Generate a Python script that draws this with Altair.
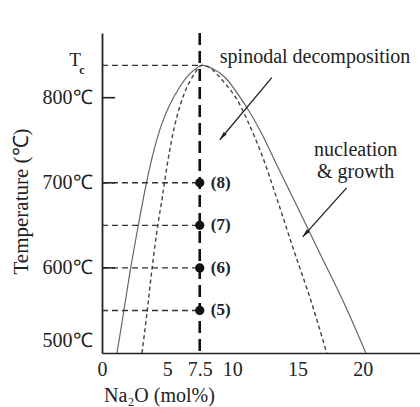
import altair as alt
import pandas as pd

# ---- data ----
binodal_x = [1.15, 1.65, 2.18, 2.80, 3.41, 3.95, 4.56, 5.21, 5.94, 6.67, 7.28, 7.65, 8.51, 9.43, 10.96, 12.18, 13.41, 14.79, 16.59, 18.47, 20.25]
binodal_T = [500, 547, 598, 651, 700, 736, 768, 792, 812, 827, 835, 838, 834, 824, 792, 760, 721, 678, 621, 562, 500]

spinodal_x = [3.07, 3.45, 3.83, 4.29, 4.60, 4.79, 5.17, 5.59, 6.02, 6.51, 7.13, 7.65, 8.28, 9.20, 10.27, 11.19, 12.26, 13.49, 14.71, 16.02, 17.24]
spinodal_T = [500, 547, 598, 651, 680, 700, 736, 768, 792, 812, 829, 838, 835, 821, 800, 772, 733, 678, 621, 562, 500]

composition = 7.5
Tc = 838
sample_T = [550, 600, 650, 700]
sample_labels = ["(5)", "(6)", "(7)", "(8)"]
guide_T = [Tc, 700, 650, 600, 550]
inner_tick_T = [600, 700, 800]

x_ticks = [0, 5, 7.5, 10, 15, 20]
y_ticks = [500, 600, 700, 800]

arrow_x1 = [13.03, 18.77]
arrow_T1 = [823.5, 694]
arrow_x2 = [9.04, 15.40]
arrow_T2 = [750.6, 636.5]
arrow_angle = [220, 222]

note_text = ["spinodal decomposition", "nucleation", "& growth"]
note_x = [9.04, 19.46, 19.46]
note_T = [848, 739, 713]

FONT = "Liberation Serif"
INK = "#222222"

xs = alt.Scale(domain=[0, 24.4], nice=False, zero=False)
ys = alt.Scale(domain=[500, 876], nice=False, zero=False)

x_axis = alt.Axis(
    values=x_ticks, format="~g", ticks=False, grid=False, labelFlush=False, labelAlign="center",
    labelFont=FONT, labelFontSize=20, labelColor=INK, labelPadding=6,
    domainColor=INK, domainWidth=1.6,
    title="Na₂O (mol%)", titleFont=FONT, titleFontSize=20, titleFontWeight="normal",
    titleColor=INK, titleX=57, titleY=42, titleAlign="center", titleBaseline="middle",
)
y_axis = alt.Axis(
    values=y_ticks, labelExpr="datum.value + '℃'", ticks=False, grid=False, labelFlush=False,
    labelFont=FONT, labelFontSize=20, labelColor=INK, labelPadding=10,
    labelOffset={"condition": {"test": "datum.value === 500", "value": -13}, "value": 0},
    domainColor=INK, domainWidth=1.8,
    title="Temperature (℃)", titleFont=FONT, titleFontSize=21, titleFontWeight="normal",
    titleColor=INK, titleX=-81, titleY=168, titleAngle=270, titleAlign="center", titleBaseline="middle",
)

bin_df = pd.DataFrame({"x": binodal_x, "T": binodal_T, "i": range(len(binodal_x))})
spin_df = pd.DataFrame({"x": spinodal_x, "T": spinodal_T, "i": range(len(spinodal_x))})

binodal = alt.Chart(bin_df).mark_line(color="#666666", strokeWidth=1.2, interpolate="catmull-rom").encode(
    x=alt.X("x:Q", scale=xs, axis=x_axis),
    y=alt.Y("T:Q", scale=ys, axis=y_axis),
    order="i:Q",
)
spinodal = alt.Chart(spin_df).mark_line(color="#444444", strokeWidth=1.4, strokeDash=[4, 3], interpolate="catmull-rom").encode(
    x=alt.X("x:Q", scale=xs), y=alt.Y("T:Q", scale=ys), order="i:Q"
)

guide_df = pd.DataFrame({"T": guide_T, "x0": [0] * len(guide_T), "x1": [composition] * len(guide_T)})
guides = alt.Chart(guide_df).mark_rule(color="#333333", strokeWidth=1.4, strokeDash=[6, 4]).encode(
    x=alt.X("x0:Q", scale=xs), x2="x1:Q", y=alt.Y("T:Q", scale=ys)
)

tick_df = pd.DataFrame({"T": inner_tick_T, "x0": [0] * 3, "x1": [1.0] * 3})
ticks = alt.Chart(tick_df).mark_rule(color=INK, strokeWidth=1.6).encode(
    x=alt.X("x0:Q", scale=xs), x2="x1:Q", y=alt.Y("T:Q", scale=ys)
)

vline = alt.Chart(pd.DataFrame({"x": [composition]})).mark_rule(
    color="#111111", strokeWidth=2.6, strokeDash=[12, 6]
).encode(x=alt.X("x:Q", scale=xs))

samp_df = pd.DataFrame({"x": [composition] * 4, "T": sample_T, "lab": sample_labels})
points = alt.Chart(samp_df).mark_point(filled=True, color="#111111", size=85, opacity=1).encode(
    x=alt.X("x:Q", scale=xs), y=alt.Y("T:Q", scale=ys)
)
plabels = alt.Chart(samp_df).mark_text(
    font=FONT, fontSize=17, fontWeight="bold", color=INK, align="left", dx=11, baseline="middle"
).encode(x=alt.X("x:Q", scale=xs), y=alt.Y("T:Q", scale=ys), text="lab:N")

tc_df = pd.DataFrame({"x": [0], "T": [Tc]})
tc_T = alt.Chart(tc_df).mark_text(font=FONT, fontSize=19, color=INK, dx=-27, dy=-5, baseline="middle").encode(
    x=alt.X("x:Q", scale=xs), y=alt.Y("T:Q", scale=ys), text=alt.value("T")
)
tc_c = alt.Chart(tc_df).mark_text(font=FONT, fontSize=12, fontWeight="bold", color=INK, dx=-20, dy=5, baseline="middle").encode(
    x=alt.X("x:Q", scale=xs), y=alt.Y("T:Q", scale=ys), text=alt.value("c")
)

arr_df = pd.DataFrame({"x1": arrow_x1, "T1": arrow_T1, "x2": arrow_x2, "T2": arrow_T2, "ang": arrow_angle})
shafts = alt.Chart(arr_df).mark_rule(color=INK, strokeWidth=1.3).encode(
    x=alt.X("x1:Q", scale=xs), y=alt.Y("T1:Q", scale=ys), x2="x2:Q", y2="T2:Q"
)
heads = alt.Chart(arr_df).mark_point(
    shape="M0,0 L0.38,1.6 L-0.38,1.6 Z", filled=True, color=INK, size=110, opacity=1
).encode(x=alt.X("x2:Q", scale=xs), y=alt.Y("T2:Q", scale=ys), angle=alt.Angle("ang:Q", scale=None))

note_df = pd.DataFrame({"x": note_x, "T": note_T, "t": note_text})
notes_left = alt.Chart(note_df.iloc[[0]]).mark_text(font=FONT, fontSize=20, color=INK, align="left", baseline="middle").encode(
    x=alt.X("x:Q", scale=xs), y=alt.Y("T:Q", scale=ys), text="t:N"
)
notes_center = alt.Chart(note_df.iloc[1:]).mark_text(font=FONT, fontSize=20, color=INK, align="center", baseline="middle").encode(
    x=alt.X("x:Q", scale=xs), y=alt.Y("T:Q", scale=ys), text="t:N"
)

chart = alt.layer(
    binodal, spinodal, guides, ticks, vline, points, plabels, tc_T, tc_c, shafts, heads, notes_left, notes_center
).properties(
    width=318, height=320,
    autosize=alt.AutoSizeParams(type="none"),
    padding={"left": 102, "top": 33, "right": 0, "bottom": 54},
    background="white",
).configure_view(stroke=None)

chart.save("out.html", embed_options={"renderer": "svg", "actions": False})
